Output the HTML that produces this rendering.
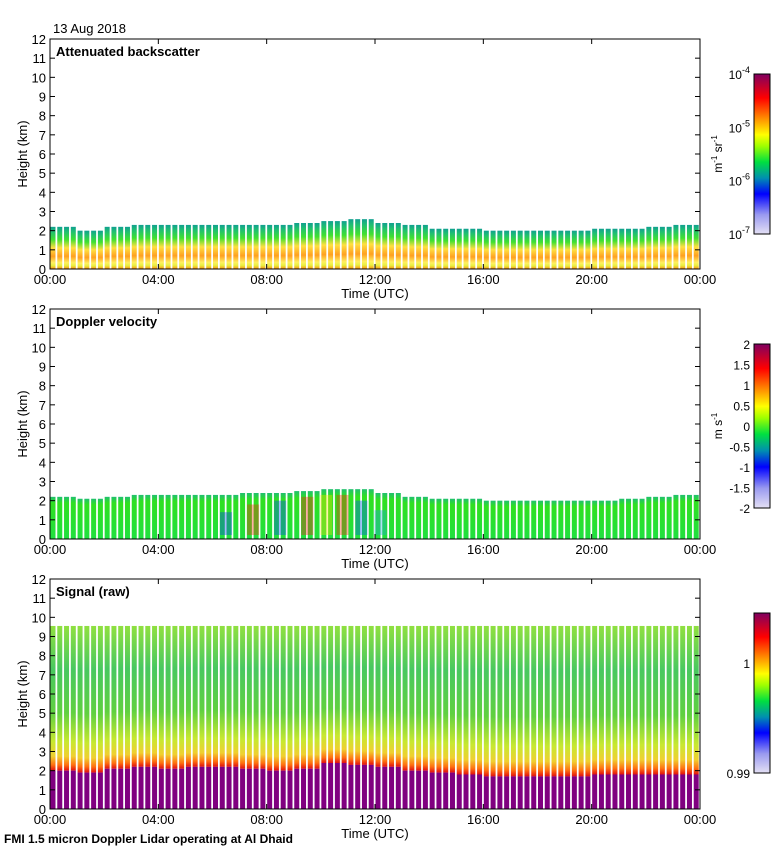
<!DOCTYPE html>
<html><head><meta charset="utf-8">
<style>
body{margin:0;background:#fff;}
svg{display:block;font-family:"Liberation Sans",sans-serif;}
</style></head>
<body>
<svg id="chart" width="780" height="850" xmlns="http://www.w3.org/2000/svg">
<defs>
<linearGradient id="cbar" x1="0" y1="1" x2="0" y2="0">
<stop offset="0" stop-color="#e4e0f4"/><stop offset="0.12" stop-color="#9a9af0"/>
<stop offset="0.25" stop-color="#0000ff"/><stop offset="0.35" stop-color="#0090b0"/>
<stop offset="0.45" stop-color="#00e040"/><stop offset="0.55" stop-color="#a0ff00"/>
<stop offset="0.62" stop-color="#ffff00"/><stop offset="0.72" stop-color="#ff9000"/>
<stop offset="0.85" stop-color="#ff0000"/><stop offset="1" stop-color="#800060"/>
</linearGradient>
<linearGradient id="g1" x1="0" y1="1" x2="0" y2="0">
<stop offset="0" stop-color="#ff9010"/><stop offset="0.08" stop-color="#e8f040"/>
<stop offset="0.15" stop-color="#fff060"/><stop offset="0.3" stop-color="#ffa020"/>
<stop offset="0.5" stop-color="#ffe040"/><stop offset="0.7" stop-color="#40e030"/>
<stop offset="0.88" stop-color="#20c070"/><stop offset="1" stop-color="#10a090"/>
</linearGradient>
<linearGradient id="g2" x1="0" y1="1" x2="0" y2="0">
<stop offset="0" stop-color="#20e040"/><stop offset="0.85" stop-color="#30e020"/>
<stop offset="1" stop-color="#20c070"/>
</linearGradient>
<linearGradient id="g3" x1="0" y1="1" x2="0" y2="0">
<stop offset="0" stop-color="#e01010"/><stop offset="0.04" stop-color="#ff7010"/>
<stop offset="0.1" stop-color="#f0d030"/><stop offset="0.2" stop-color="#c8e830"/>
<stop offset="0.4" stop-color="#60d040"/><stop offset="0.7" stop-color="#48c860"/>
<stop offset="1" stop-color="#90e040"/>
</linearGradient>
</defs>
<g id="layer"></g>
</svg>
<script>
const hours = ["00:00","04:00","08:00","12:00","16:00","20:00","00:00"];
const yTicks = [0,1,2,3,4,5,6,7,8,9,10,11,12];
const bscTopHourly = [2.2,2.0,2.2,2.3,2.3,2.3,2.3,2.3,2.3,2.4,2.5,2.6,2.4,2.3,2.1,2.1,2.0,2.0,2.0,2.0,2.1,2.1,2.2,2.3];
const velTopHourly = [2.2,2.1,2.2,2.3,2.3,2.3,2.3,2.4,2.4,2.5,2.6,2.6,2.4,2.2,2.1,2.1,2.0,2.0,2.0,2.0,2.0,2.1,2.2,2.3];
const sigBaseHourly = [2.0,1.9,2.1,2.2,2.1,2.2,2.2,2.1,2.0,2.1,2.4,2.3,2.2,2.0,1.9,1.8,1.7,1.7,1.7,1.7,1.8,1.8,1.8,1.8];
const sigTop = 9.55;
const velPatchTimes = [6.5,7.5,8.5,9.5,10.2,10.8,11.5,12.2];
const velPatchHeights = [1.4,1.8,2.0,2.2,2.3,2.3,2.0,1.5];
const velPatchColors = ["#0030ff","#ff2000","#0040ff","#ff1010","#ffe000","#ff2000","#0050ff","#20a0e0"];
const cb1Labels = ["-4","-5","-6","-7"];
const cb2Labels = ["2","1.5","1","0.5","0","-0.5","-1","-1.5","-2"];

const NS="http://www.w3.org/2000/svg";
const layer=document.getElementById('layer');
function el(tag,attrs,parent){const e=document.createElementNS(NS,tag);for(const k in attrs)e.setAttribute(k,attrs[k]);(parent||layer).appendChild(e);return e;}
const X0=50,X1=700;
const xs=h=>X0+(X1-X0)*h/24;
const panels=[{top:39,name:"backscatter"},{top:309,name:"velocity"},{top:579,name:"signal"}];
const PH=230;
function ys(p,km){return p.top+PH-PH*km/12;}

function stripes(p,hourly,grad,base){
  for(let i=0;i<96;i++){
    const h=i/4, v=hourly[Math.floor(h)];
    const b=base?base[Math.floor(h)]:0;
    const r=el('rect',{x:xs(h)+0.5,y:ys(p,v),width:5,height:ys(p,b)-ys(p,v),fill:grad});
    
    
  }
}
stripes(panels[0],bscTopHourly,"url(#g1)");
stripes(panels[1],velTopHourly,"url(#g2)");
velPatchTimes.forEach((t,i)=>{
  const r=el('rect',{x:xs(t)-6,y:ys(panels[1],velPatchHeights[i]),width:12,height:ys(panels[1],0)-ys(panels[1],velPatchHeights[i])-4,fill:velPatchColors[i],opacity:0.35});
  
  
});
const sigTopArr=sigBaseHourly.map(()=>sigTop);
stripes(panels[2],sigTopArr,"url(#g3)",sigBaseHourly);
stripes(panels[2],sigBaseHourly,"#800080");

const titles=["Attenuated backscatter","Doppler velocity","Signal (raw)"];
panels.forEach((p,pi)=>{
  const g=el('g',{});
  
  
  el('rect',{x:X0,y:p.top,width:X1-X0,height:PH,fill:'none',stroke:'#000','stroke-width':1},g);
  yTicks.forEach(t=>{
    const y=ys(p,t);
    el('line',{x1:X0,x2:X0+5,y1:y,y2:y,stroke:'#000'},g);
    el('line',{x1:X1,x2:X1-5,y1:y,y2:y,stroke:'#000'},g);
    const tx=el('text',{x:46,y:y+5,'font-size':13,'text-anchor':'end'},g);tx.textContent=t;
    
    
  });
  hours.forEach((hl,i)=>{
    const x=xs(i*4);
    el('line',{x1:x,x2:x,y1:p.top,y2:p.top+5,stroke:'#000'},g);
    el('line',{x1:x,x2:x,y1:p.top+PH,y2:p.top+PH-5,stroke:'#000'},g);
    const tx=el('text',{x:x,y:p.top+PH+15,'font-size':13,'text-anchor':'middle'},g);tx.textContent=hl;
    
    
  });
  const tt=el('text',{x:56,y:p.top+17,'font-size':13,'font-weight':'bold'},g);tt.textContent=titles[pi];
  
  
  const xt=el('text',{x:375,y:p.top+PH+29,'font-size':13,'text-anchor':'middle'},g);xt.textContent="Time (UTC)";
  
  
  const yt=el('text',{x:0,y:0,'font-size':13,'text-anchor':'middle',transform:`translate(27,${p.top+PH/2}) rotate(-90)`},g);yt.textContent="Height (km)";
  
  
});

const cbs=[{y:74,h:160},{y:344,h:164},{y:613,h:160}];
cbs.forEach((c,i)=>{
  const r=el('rect',{x:754,y:c.y,width:16,height:c.h,fill:'url(#cbar)',stroke:'#000'});
  
  
});
cb1Labels.forEach((l,i)=>{
  const y=cbs[0].y+cbs[0].h*i/3;
  const t=el('text',{x:750,y:y+5,'font-size':12,'text-anchor':'end'});
  t.innerHTML='10<tspan dy="-6" font-size="9">'+l+'</tspan>';
  
  
});
cb2Labels.forEach((l,i)=>{
  const y=cbs[1].y+cbs[1].h*i/8;
  const t=el('text',{x:750,y:y+5,'font-size':12,'text-anchor':'end'});t.textContent=l;
  
  
});
[["1",668],["0.99",778]].forEach(a=>{
  const t=el('text',{x:750,y:a[1],'font-size':12,'text-anchor':'end'});t.textContent=a[0];
  
  
});
const u1=el('text',{x:0,y:0,'font-size':12,'text-anchor':'middle',transform:'translate(722,154) rotate(-90)'});
u1.innerHTML='m<tspan dy="-5" font-size="8">-1</tspan><tspan dy="5"> sr</tspan><tspan dy="-5" font-size="8">-1</tspan>';


const u2=el('text',{x:0,y:0,'font-size':12,'text-anchor':'middle',transform:'translate(722,426) rotate(-90)'});
u2.innerHTML='m s<tspan dy="-5" font-size="8">-1</tspan>';



const d=el('text',{x:53,y:33,'font-size':13});d.textContent="13 Aug 2018";


const f=el('text',{x:4,y:843,'font-size':12,'font-weight':'bold'});f.textContent="FMI 1.5 micron Doppler Lidar operating at Al Dhaid";


</script>
</body></html>
